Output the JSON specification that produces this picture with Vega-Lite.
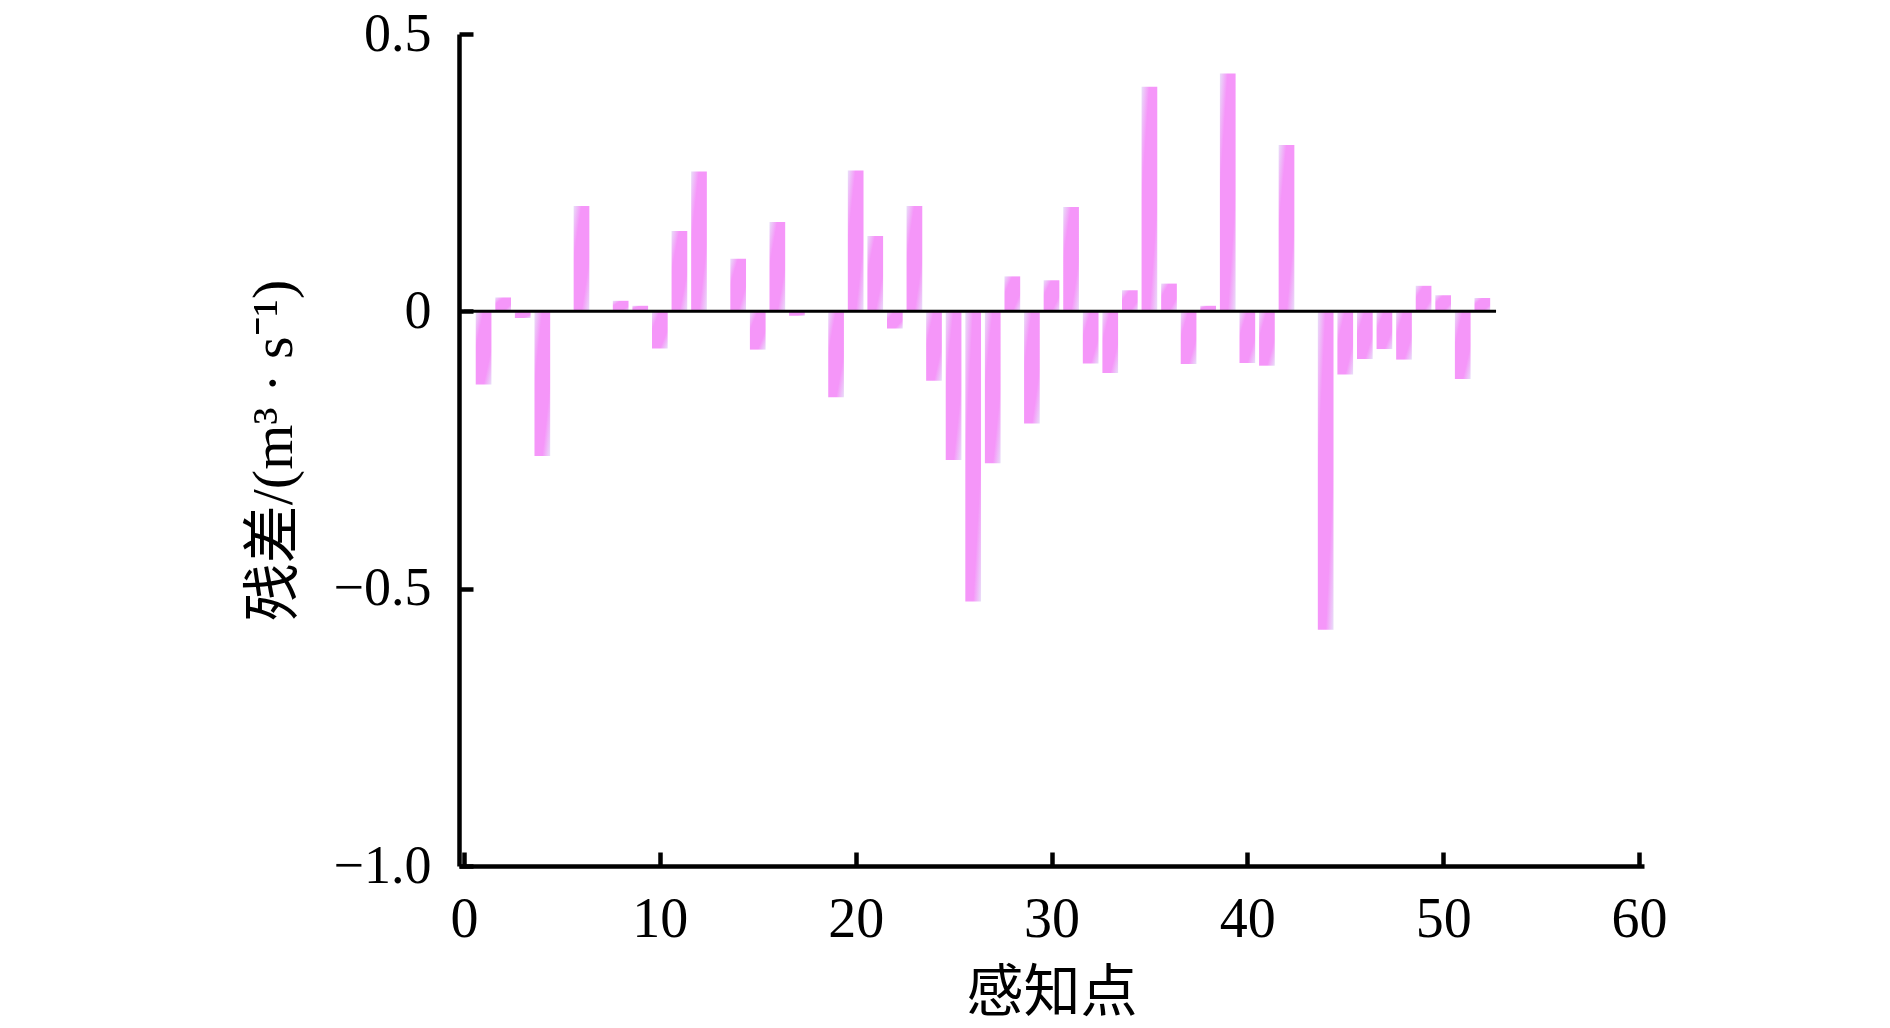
{
  "$schema": "https://vega.github.io/schema/vega-lite/v6.json",
  "width": 1185,
  "height": 832,
  "autosize": {"type": "none"},
  "padding": {"left": 459, "top": 34, "right": 246, "bottom": 162},
  "background": "white",
  "config": {
    "view": {"stroke": null},
    "axis": {
      "grid": false,
      "domainColor": "#000000",
      "domainWidth": 4.5,
      "tickColor": "#000000",
      "tickWidth": 4.5,
      "labelColor": "#000000",
      "titleColor": "#000000",
      "labelFont": "Liberation Serif",
      "titleFont": "Liberation Serif, Noto Sans CJK SC",
      "titleFontWeight": "normal"
    }
  },
  "datasets": {
    "residuals": [
      {"point": 1, "residual": -0.132},
      {"point": 2, "residual": 0.025},
      {"point": 3, "residual": -0.012},
      {"point": 4, "residual": -0.261},
      {"point": 6, "residual": 0.190},
      {"point": 8, "residual": 0.019},
      {"point": 9, "residual": 0.010},
      {"point": 10, "residual": -0.067},
      {"point": 11, "residual": 0.145},
      {"point": 12, "residual": 0.252},
      {"point": 14, "residual": 0.095},
      {"point": 15, "residual": -0.069},
      {"point": 16, "residual": 0.161},
      {"point": 17, "residual": -0.008},
      {"point": 19, "residual": -0.155},
      {"point": 20, "residual": 0.254},
      {"point": 21, "residual": 0.136},
      {"point": 22, "residual": -0.031},
      {"point": 23, "residual": 0.190},
      {"point": 24, "residual": -0.125},
      {"point": 25, "residual": -0.268},
      {"point": 26, "residual": -0.523},
      {"point": 27, "residual": -0.274},
      {"point": 28, "residual": 0.063},
      {"point": 29, "residual": -0.202},
      {"point": 30, "residual": 0.056},
      {"point": 31, "residual": 0.188},
      {"point": 32, "residual": -0.094},
      {"point": 33, "residual": -0.111},
      {"point": 34, "residual": 0.038},
      {"point": 35, "residual": 0.405},
      {"point": 36, "residual": 0.050},
      {"point": 37, "residual": -0.095},
      {"point": 38, "residual": 0.010},
      {"point": 39, "residual": 0.429},
      {"point": 40, "residual": -0.093},
      {"point": 41, "residual": -0.098},
      {"point": 42, "residual": 0.300},
      {"point": 44, "residual": -0.574},
      {"point": 45, "residual": -0.114},
      {"point": 46, "residual": -0.086},
      {"point": 47, "residual": -0.068},
      {"point": 48, "residual": -0.087},
      {"point": 49, "residual": 0.046},
      {"point": 50, "residual": 0.029},
      {"point": 51, "residual": -0.122},
      {"point": 52, "residual": 0.024}
    ],
    "zeroline": [
      {"start": 0, "end": 52.7, "level": 0}
    ]
  },
  "layer": [
    {
      "data": {"name": "residuals"},
      "mark": {
        "type": "bar",
        "width": 15.7,
        "color": {
          "gradient": "linear",
          "x1": 0, "y1": 0, "x2": 1, "y2": 1,
          "stops": [
            {"offset": 0, "color": "#e9dff8"},
            {"offset": 0.25, "color": "#f596f9"},
            {"offset": 0.75, "color": "#f596f9"},
            {"offset": 1, "color": "#e9dff8"}
          ]
        }
      },
      "encoding": {
        "x": {
          "field": "point",
          "type": "quantitative",
          "scale": {"domain": [0, 60], "nice": false, "zero": false},
          "axis": {
            "values": [0, 10, 20, 30, 40, 50, 60],
            "tickSize": -14,
            "labelPadding": 40,
            "labelFontSize": 56,
            "labelFlush": false,
            "title": "感知点",
            "titleFont": "Noto Sans CJK SC",
            "titleFontSize": 57,
            "titlePadding": 18
          }
        },
        "y": {
          "field": "residual",
          "type": "quantitative",
          "scale": {"domain": [-1, 0.5], "nice": false},
          "axis": {
            "values": [-1, -0.5, 0, 0.5],
            "labelExpr": "datum.value == 0 ? '0' : datum.value == -1 ? '−1.0' : datum.value == 0.5 ? '0.5' : '−0.5'",
            "tickSize": -14,
            "labelPadding": 42,
            "labelFontSize": 54,
            "labelFlush": false,
            "title": "残差/(m³ · s⁻¹)",
            "titleFontSize": 58,
            "titlePadding": 30
          }
        }
      }
    },
    {
      "data": {"name": "zeroline"},
      "mark": {"type": "rule", "color": "#000000", "strokeWidth": 3},
      "encoding": {
        "x": {"field": "start", "type": "quantitative"},
        "x2": {"field": "end"},
        "y": {"field": "level", "type": "quantitative"}
      }
    }
  ]
}
